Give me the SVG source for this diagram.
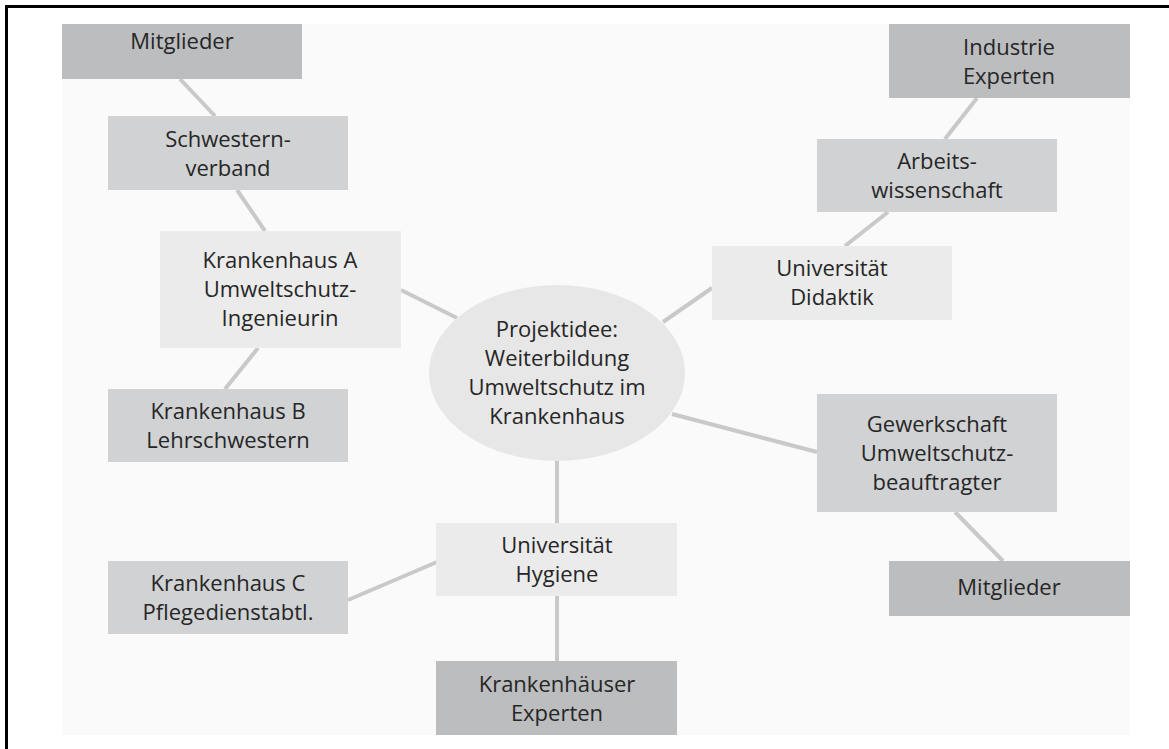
<svg xmlns="http://www.w3.org/2000/svg" width="1169" height="749" viewBox="0 0 1169 749">
<style>
.t{font-family:"Open Sans","Noto Sans","Liberation Sans",sans-serif;font-size:22px;fill:#262626;text-anchor:middle}
.dk{fill:#bcbdbf}
.md{fill:#d1d2d4}
.lt{fill:#ebebeb}
.c line{stroke:#c9c9c9;stroke-width:4;stroke-linecap:butt}
</style>
<rect x="0" y="0" width="1169" height="749" fill="#ffffff"/>
<rect x="62" y="24" width="1068" height="711" fill="#fafafa"/>
<path d="M6.5 749 V6.5 H1169" fill="none" stroke="#000" stroke-width="3"/>
<g id="connectors" class="c">
<line x1="180" y1="79" x2="215" y2="116"/>
<line x1="237" y1="190" x2="265" y2="231"/>
<line x1="401" y1="290" x2="457" y2="318"/>
<line x1="258" y1="348" x2="225" y2="389"/>
<line x1="663" y1="322" x2="712" y2="288"/>
<line x1="845" y1="246" x2="888" y2="212"/>
<line x1="945" y1="139" x2="977" y2="98"/>
<line x1="672" y1="414" x2="817" y2="452"/>
<line x1="955" y1="512" x2="1003" y2="561"/>
<line x1="348" y1="600" x2="437" y2="562"/>
<line x1="557" y1="459" x2="557" y2="523"/>
<line x1="557" y1="596" x2="557" y2="661"/>
</g>
<g id="n-mitglieder-l"><rect class="dk" x="62" y="24" width="240" height="55"/><text class="t" x="182" y="49">Mitglieder</text></g>
<g id="n-schwestern"><rect class="md" x="108" y="116" width="240" height="74"/><text class="t" x="228" y="147">Schwestern-</text><text class="t" x="228" y="176">verband</text></g>
<g id="n-krankenhaus-a"><rect class="lt" x="160" y="231" width="241" height="117"/><text class="t" x="280" y="268">Krankenhaus A</text><text class="t" x="280" y="297">Umweltschutz-</text><text class="t" x="280" y="326">Ingenieurin</text></g>
<g id="n-krankenhaus-b"><rect class="md" x="108" y="389" width="240" height="73"/><text class="t" x="228" y="419">Krankenhaus B</text><text class="t" x="228" y="448">Lehrschwestern</text></g>
<g id="n-projekt"><ellipse cx="557" cy="373" rx="128" ry="88" fill="#e7e7e7"/><text class="t" x="557" y="337">Projektidee:</text><text class="t" x="557" y="366">Weiterbildung</text><text class="t" x="557" y="395">Umweltschutz im</text><text class="t" x="557" y="424">Krankenhaus</text></g>
<g id="n-industrie"><rect class="dk" x="889" y="24" width="241" height="74"/><text class="t" x="1009" y="55">Industrie</text><text class="t" x="1009" y="84">Experten</text></g>
<g id="n-arbeit"><rect class="md" x="817" y="139" width="240" height="73"/><text class="t" x="937" y="169">Arbeits-</text><text class="t" x="937" y="198">wissenschaft</text></g>
<g id="n-didaktik"><rect class="lt" x="712" y="246" width="240" height="74"/><text class="t" x="832" y="276">Universität</text><text class="t" x="832" y="305">Didaktik</text></g>
<g id="n-gewerkschaft"><rect class="md" x="817" y="394" width="240" height="118"/><text class="t" x="937" y="432">Gewerkschaft</text><text class="t" x="937" y="461">Umweltschutz-</text><text class="t" x="937" y="490">beauftragter</text></g>
<g id="n-mitglieder-r"><rect class="dk" x="889" y="561" width="241" height="55"/><text class="t" x="1009" y="595">Mitglieder</text></g>
<g id="n-krankenhaus-c"><rect class="md" x="108" y="561" width="240" height="73"/><text class="t" x="228" y="591">Krankenhaus C</text><text class="t" x="228" y="620">Pflegedienstabtl.</text></g>
<g id="n-hygiene"><rect class="lt" x="436" y="523" width="241" height="73"/><text class="t" x="557" y="553">Universität</text><text class="t" x="557" y="582">Hygiene</text></g>
<g id="n-krankenhaeuser"><rect class="dk" x="436" y="661" width="241" height="74"/><text class="t" x="557" y="692">Krankenhäuser</text><text class="t" x="557" y="721">Experten</text></g>
</svg>
